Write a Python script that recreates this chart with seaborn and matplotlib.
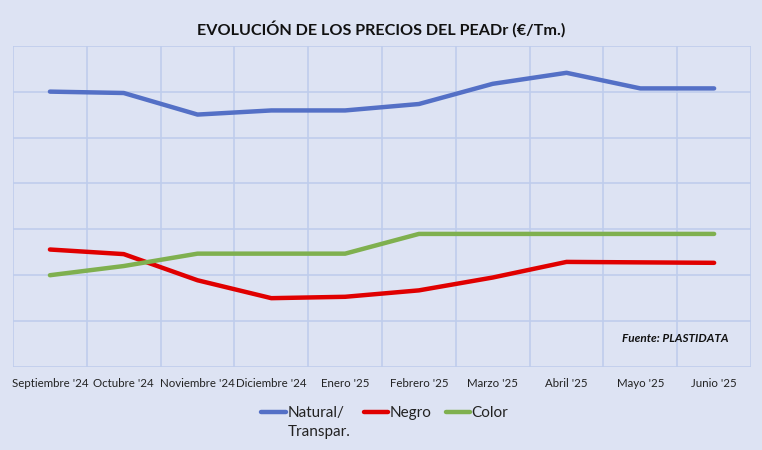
import pandas as pd
import matplotlib
matplotlib.use("Agg")
import matplotlib.pyplot as plt
import seaborn as sns


# Data (€/Tm)
meses = ["Septiembre '24", "Octubre '24", "Noviembre '24", "Diciembre '24", "Enero '25",
         "Febrero '25", "Marzo '25", "Abril '25", "Mayo '25", "Junio '25"]
natural = [1200, 1197, 1150, 1159, 1159, 1173, 1217, 1241, 1207, 1207]
negro = [856, 846, 789, 750, 753, 767, 795, 829, 828, 827]
color = [800, 820, 847, 847, 847, 890, 890, 890, 890, 890]

series = ["Natural/\nTranspar.", "Negro", "Color"]
colores = ["#5470c6", "#e00000", "#7fb04f"]

df = pd.DataFrame({
    "mes": list(range(len(meses))) * 3,
    "precio": natural + negro + color,
    "serie": [series[0]] * len(meses) + [series[1]] * len(meses) + [series[2]] * len(meses),
})

bg = "#dde3f3"
grid_col = "#bfcdec"

sns.set_style("white")
plt.rcParams["font.family"] = ["Lato", "DejaVu Sans"]

fig = plt.figure(figsize=(7.62, 4.5), dpi=100, facecolor=bg)
ax = fig.add_axes([0.0171, 0.1844, 0.9685, 0.714])
ax.set_facecolor(bg)

sns.lineplot(data=df, x="mes", y="precio", hue="serie", palette=colores,
             linewidth=3.2, ax=ax, legend=True)
for ln in ax.get_lines():
    ln.set_solid_capstyle("round")
    ln.set_solid_joinstyle("round")

# Category axis with gridlines between categories
ax.set_xlim(-0.5, len(meses) - 0.5)
ax.set_ylim(600, 1300)
ax.set_xticks(range(len(meses)))
ax.set_xticklabels(meses, fontsize=8.3, color="#222222")
ax.set_xticks([i - 0.5 for i in range(len(meses) + 1)], minor=True)
ax.set_yticks(range(600, 1301, 100))
ax.set_yticklabels([])
ax.tick_params(axis="x", which="both", length=0, pad=8)
ax.tick_params(axis="y", length=0)
ax.grid(True, which="minor", axis="x", color=grid_col, linewidth=1.2)
ax.grid(True, which="major", axis="y", color=grid_col, linewidth=1.2)
ax.grid(False, which="major", axis="x")
for s in ax.spines.values():
    s.set_visible(False)
ax.set_xlabel("")
ax.set_ylabel("")

ax.text(0.897, 0.09, "Fuente: PLASTIDATA", transform=ax.transAxes, ha="center",
        va="center", fontsize=8.5, fontweight="bold", fontstyle="italic", color="#111111")

fig.suptitle("EVOLUCIÓN DE LOS PRECIOS DEL PEADr (€/Tm.)", x=0.5, y=0.955,
             fontsize=11.6, fontweight="bold", color="#111111")

# legend: every label two lines tall so the handles sit on the first line
handles, labels = ax.get_legend_handles_labels()
labels = [l if "\n" in l else l + "\n " for l in labels]
leg = ax.legend(handles, labels, loc="center", bbox_to_anchor=(0.505, 0.061),
                bbox_transform=fig.transFigure, ncol=3, frameon=False, fontsize=11,
                handlelength=1.6, handletextpad=0.1, columnspacing=0.9,
                labelcolor="#222222")
for t in leg.get_texts():
    t.set_linespacing(1.5)
for h in leg.get_lines():
    h.set_solid_capstyle("round")
    h.set_ydata([y + 7.8 for y in h.get_ydata()])

fig.savefig("out.png", dpi=100, facecolor=bg)
